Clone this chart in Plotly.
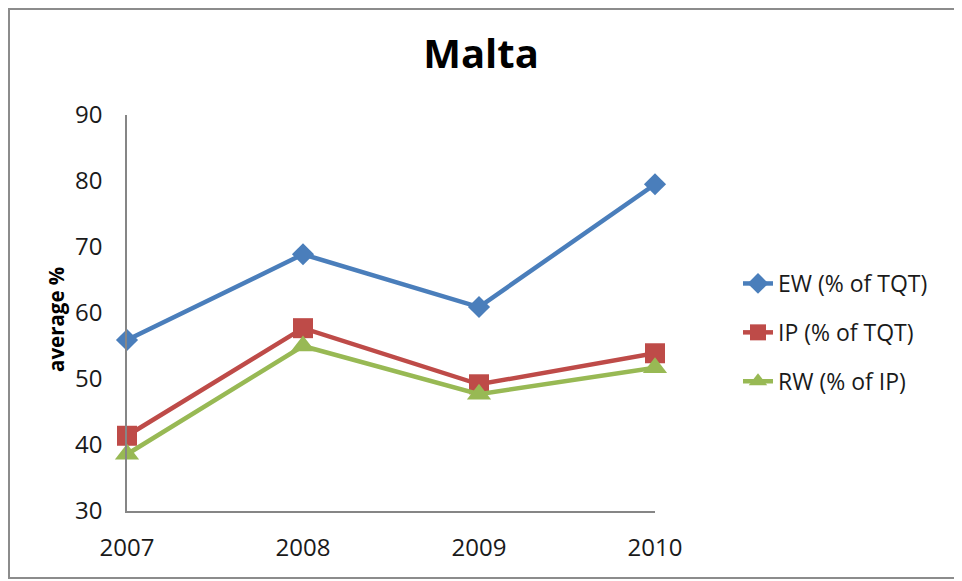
import plotly.graph_objects as go

years = ["2007", "2008", "2009", "2010"]
ew = [55.9, 68.9, 60.9, 79.5]
ip = [41.4, 57.7, 49.2, 53.9]
rw = [38.6, 55.0, 47.7, 51.7]
series_names = ["EW (% of TQT)", "IP (% of TQT)", "RW (% of IP)"]
y_ticks = [30, 40, 50, 60, 70, 80, 90]

OFF = 8  # page body margin
W, H = 962 - OFF, 581 - OFF
L, T = 127 - OFF, 115 - OFF
R = W - (655 - OFF)
B = H - (511 - OFF)
pw, ph = W - L - R, H - T - B

FONT = "Open Sans"

fig = go.Figure()
styles = [
    (ew, "#4A7EBB", "diamond", 17),
    (ip, "#BE4B48", "square", 20),
    (rw, "#98B954", "triangle-up", 21),
]
for i, ((vals, col, sym, sz), name) in enumerate(zip(styles, series_names)):
    fig.add_trace(go.Scatter(
        x=years, y=vals, name=name, mode="lines+markers",
        line=dict(color=col, width=4.5),
        marker=dict(symbol=sym, size=sz, color=col),
        cliponaxis=False, legendgroup=str(i),
    ))

def px(x):  # reference screen x -> paper
    return (x - OFF - L) / pw

def py(y):  # reference screen y -> paper
    return (H - B - (y - OFF)) / ph

fig.add_shape(type="rect", xref="paper", yref="paper",
              x0=px(OFF + 1), x1=px(958), y0=py(578), y1=py(OFF + 1),
              line=dict(color="#8C8C8C", width=2), fillcolor="rgba(0,0,0,0)")

fig.add_annotation(text="<b>average %</b>", xref="paper", yref="paper",
                   x=px(56), y=py(320), textangle=-90, showarrow=False,
                   xanchor="center", yanchor="middle",
                   font=dict(size=20.5, family=FONT, color="black"))

fig.update_layout(
    width=W, height=H,
    margin=dict(l=L, r=R, t=T, b=B),
    paper_bgcolor="white", plot_bgcolor="white",
    font=dict(family=FONT, color="#1a1a1a"),
    title=dict(text="<b>Malta</b>", x=(481 - OFF) / W, xanchor="center",
               y=1 - (54 - OFF) / H, yanchor="middle",
               font=dict(size=40, family=FONT, color="black")),
    showlegend=True,
    legend=dict(x=px(738), xanchor="left", y=py(262), yanchor="top",
                font=dict(size=23, family=FONT, color="#1a1a1a"),
                traceorder="grouped", tracegroupgap=16,
                bgcolor="rgba(0,0,0,0)"),
    xaxis=dict(type="category", range=[0, 3], showline=True,
               linecolor="#868686", linewidth=1.5, showgrid=False,
               ticks="", tickfont=dict(size=24, family=FONT, color="#1a1a1a"),
               ticklabelstandoff=14, zeroline=False),
    yaxis=dict(range=[30, 90], tickvals=y_ticks, showline=True,
               linecolor="#868686", linewidth=1.5, showgrid=False,
               ticks="", tickfont=dict(size=24, family=FONT, color="#1a1a1a"),
               ticklabelstandoff=18, zeroline=False),
)

fig.write_html("out.html")
